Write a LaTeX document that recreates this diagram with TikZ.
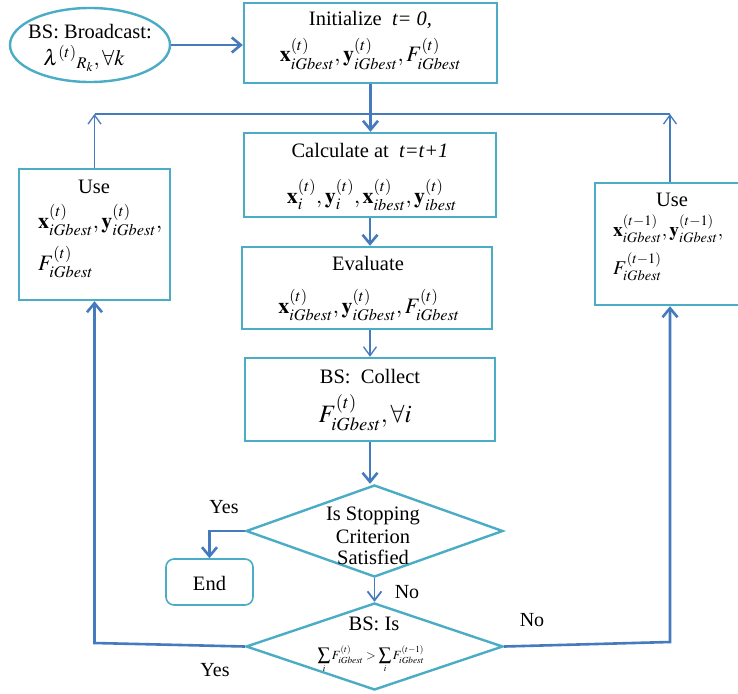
\documentclass[tikz,border=0pt]{standalone}
\usepackage{mathptmx}
\usepackage{fontspec}
\setmainfont{Liberation Serif}
\usetikzlibrary{shapes.geometric,arrows.meta}

\definecolor{boxc}{RGB}{75,172,198}
\definecolor{flowc}{RGB}{70,122,190}

\tikzset{
  box/.style={draw=boxc, line width=2.4pt, inner sep=0pt},
  txt/.style={anchor=base, inner sep=0pt, font=\fontsize{20.5}{24}\selectfont},
  mth/.style={anchor=base, inner sep=0pt, font=\fontsize{22}{26}\selectfont},
  mthsmall/.style={anchor=base west, inner sep=0pt, font=\fontsize{19.5}{23}\selectfont},
  lbl/.style={anchor=base, inner sep=0pt, font=\fontsize{20}{24}\selectfont},
  flow/.style={draw=flowc, line width=2.6pt, -{Straight Barb[length=9pt,width=15pt]}},
  thinflow/.style={draw=flowc, line width=1.3pt, -{Straight Barb[length=9pt,width=13pt]}},
  plain/.style={draw=flowc, line width=2.6pt}
}

\begin{document}
\begin{tikzpicture}[x=1pt, y=-1pt]
\useasboundingbox (0,0) rectangle (738,693);

% ---- shapes ----
\node[box, ellipse, minimum width=160pt, minimum height=74pt] (bc) at (90,45) {};
\node[box, rectangle, minimum width=253pt, minimum height=80pt] (init) at (370.5,43) {};
\node[box, rectangle, minimum width=252pt, minimum height=84pt] (calc) at (370,175) {};
\node[box, rectangle, minimum width=250pt, minimum height=82pt] (eval) at (367,288) {};
\node[box, rectangle, minimum width=250pt, minimum height=83pt] (coll) at (370,399.5) {};
\node[box, diamond, minimum width=257pt, minimum height=92pt] (stop) at (374.5,531) {};
\node[box, diamond, minimum width=257pt, minimum height=87pt] (cmp) at (374.5,646.5) {};
\node[box, rectangle, rounded corners=8pt, line width=1.6pt, minimum width=87pt, minimum height=46pt] (end) at (209.5,582) {};
\node[box, rectangle, minimum width=151pt, minimum height=131pt] (useL) at (94.5,234.5) {};
\node[box, rectangle, minimum width=150pt, minimum height=122pt] (useR) at (670,244) {};

% ---- texts ----
\node[txt] (bcA) at (90,39) {BS: Broadcast:};
\node[mth] (bcB) at (84,65) {$\lambda^{(t)}{}_{R_k},\forall k$};

\node[txt] (initA) at (370.5,26) {Initialize \ \textit{t= 0,}};
\node[mth] (initB) at (370.5,62) {$\mathbf{x}^{(t)}_{iGbest},\mathbf{y}^{(t)}_{iGbest},F^{(t)}_{iGbest}$};

\node[txt] (calcA) at (370,157) {Calculate at \ \textit{t=t+1}};
\node[mth] (calcB) at (372,203) {$\mathbf{x}^{(t)}_{i},\mathbf{y}^{(t)}_{i},\mathbf{x}^{(t)}_{ibest},\mathbf{y}^{(t)}_{ibest}$};

\node[txt] (evalA) at (368,270) {Evaluate};
\node[mth] (evalB) at (369,313) {$\mathbf{x}^{(t)}_{iGbest},\mathbf{y}^{(t)}_{iGbest},F^{(t)}_{iGbest}$};

\node[txt] (collA) at (370,383) {BS: \ Collect};
\node[anchor=base, inner sep=0pt, font=\fontsize{25}{28}\selectfont] (collB) at (365,422) {$F^{(t)}_{iGbest},\forall i$};

\node[txt] (stopA) at (373,520) {Is Stopping};
\node[txt] (stopB) at (373,543) {Criterion};
\node[txt] (stopC) at (373,564) {Satisfied};

\node[txt] (endA) at (209.5,590) {End};

\node[txt] (cmpA) at (374,630) {BS: Is};
\node[anchor=base, inner sep=0pt, font=\fontsize{12.5}{15}\selectfont] (cmpB) at (371,659)
  {$\displaystyle\sum\limits_i F^{(t)}_{iGbest} > \sum\limits_i F^{(t-1)}_{iGbest}$};

\node[txt] (useLA) at (94,193) {Use};
\node[mth, anchor=base west] (useLB) at (38,228) {$\mathbf{x}^{(t)}_{iGbest},\mathbf{y}^{(t)}_{iGbest},$};
\node[mth, anchor=base west] (useLC) at (38,270) {$F^{(t)}_{iGbest}$};

\node[txt] (useRA) at (672,206) {Use};
\node[mthsmall] (useRB) at (613,236) {$\mathbf{x}^{(t-1)}_{iGbest},\mathbf{y}^{(t-1)}_{iGbest},$};
\node[mthsmall] (useRC) at (613,274) {$F^{(t-1)}_{iGbest}$};

\node[lbl] (yes1) at (224,513) {Yes};
\node[lbl] (no1) at (407,598) {No};
\node[lbl] (no2) at (532,626) {No};
\node[lbl] (yes2) at (215,676) {Yes};

% ---- loop corners ----
\coordinate (tl) at (94.5,114);
\coordinate (tr) at (670,114);
\coordinate (bl) at (94.5,643);
\coordinate (br) at (670,642);

% ---- connectors ----
\draw[flow] (bc.east) -- (bc.east -| init.west);
\draw[plain] (tl) -- (tr);
\draw[flow] (init.south) -- (init.south |- calc.north);
\draw[flow] (calc.south) -- (calc.south |- eval.north);
\draw[thinflow] (coll.north |- eval.south) -- (coll.north);
\draw[flow] (coll.south) -- (coll.south |- stop.north);
\draw[flow] (stop.west) -- (end.north |- stop.west) -- (end.north);
\draw[draw=flowc, line width=1.8pt, -{Straight Barb[length=9pt,width=14pt]}] (stop.south) -- (cmp.north);
\draw[flow] (cmp.west) -- (bl) -- (useL.south);
\draw[flow] (cmp.east) -- (br) -- (useR.south);
\draw[thinflow] (useL.north) -- (tl);
\draw[thinflow] (useR.north) -- (tr);
\end{tikzpicture}
\end{document}
